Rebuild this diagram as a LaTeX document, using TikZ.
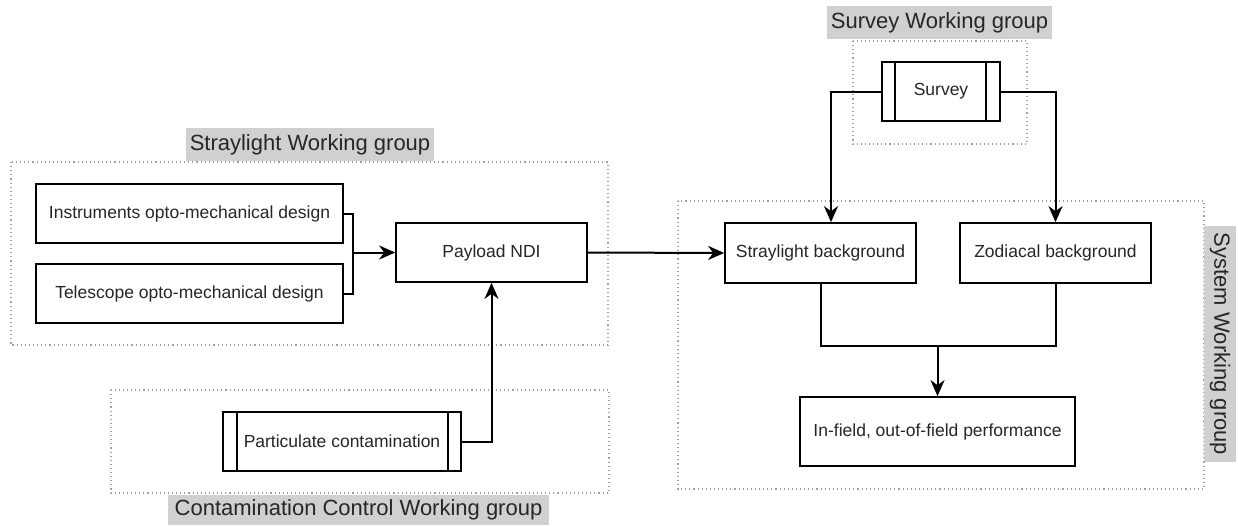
\documentclass[tikz,border=0pt]{standalone}
\usepackage{fontspec}
\setmainfont{Liberation Sans}
\usetikzlibrary{arrows.meta}
\definecolor{txt}{HTML}{262626}
\definecolor{lblfill}{HTML}{D0D0D0}
\definecolor{dotcol}{HTML}{A0A0A0}
\begin{document}
\begin{tikzpicture}[x=1pt,y=-1pt,
  nodefont/.style={font=\fontsize{17.5}{20}\selectfont, text=txt},
  procbox/.style={draw=black, line width=1.7pt, fill=white, inner sep=0pt, nodefont},
  grpbox/.style={draw=dotcol, line width=1.1pt, dash pattern=on 1.1pt off 3pt},
  grplabel/.style={fill=lblfill, inner sep=0pt, font=\fontsize{22}{26}\selectfont, text=txt},
  conn/.style={line width=2pt, draw=black},
  arr/.style={conn, -{Stealth[length=16pt, width=14pt, inset=5pt]}}]
\useasboundingbox (0,0) rectangle (1238,525);
\fill[white] (0,0) rectangle (1238,525);

% group frames
\draw[grpbox] (853,41) rectangle (1027,144);
\draw[grpbox] (11,162) rectangle (608,345);
\draw[grpbox] (111,390) rectangle (609,493);
\draw[grpbox] (678,201) rectangle (1204,489);

% group labels
\node[grplabel, minimum width=225pt, minimum height=33pt] (lsurvey) at (939.5,22.5) {Survey Working group};
\node[grplabel, minimum width=248pt, minimum height=33pt] (lstray) at (310,144.5) {Straylight Working group};
\node[grplabel, minimum width=381pt, minimum height=30pt] (lcont) at (358.5,510) {Contamination Control Working group};
\node[grplabel, minimum width=236pt, minimum height=32pt, rotate=-90] (lsys) at (1220,344) {System Working group};

% nodes
\node[procbox, minimum width=307pt, minimum height=59pt] (inst) at (189.5,213.5) {Instruments opto-mechanical design};
\node[procbox, minimum width=307pt, minimum height=59pt] (tele) at (189.5,293.5) {Telescope opto-mechanical design};
\node[procbox, minimum width=191pt, minimum height=59pt] (payload) at (491.5,252.5) {Payload NDI};
\node[procbox, minimum width=191pt, minimum height=60pt] (sbg) at (820.5,253) {Straylight background};
\node[procbox, minimum width=191pt, minimum height=60pt] (zbg) at (1055.5,253) {Zodiacal background};
\node[procbox, minimum width=275pt, minimum height=69pt] (infield) at (937.5,431.5) {In-field, out-of-field performance};
\node[procbox, minimum width=118pt, minimum height=59pt] (survey) at (941,91.5) {Survey};
\node[procbox, minimum width=238pt, minimum height=59pt] (partic) at (342,441.5) {Particulate contamination};

% process side bars
\draw[conn, line width=1.7pt] ([xshift=14pt]survey.north west) -- ([xshift=14pt]survey.south west);
\draw[conn, line width=1.7pt] ([xshift=-15pt]survey.north east) -- ([xshift=-15pt]survey.south east);
\draw[conn, line width=1.7pt] ([xshift=15pt]partic.north west) -- ([xshift=15pt]partic.south west);
\draw[conn, line width=1.7pt] ([xshift=-14pt]partic.north east) -- ([xshift=-14pt]partic.south east);

% connectors
\coordinate (brk) at (353,252.5);
\draw[conn] (inst.east) -| (brk) |- (tele.east);
\draw[arr] (brk) -- (payload.west);
\draw[arr] (payload.east) -- (sbg.west);
\draw[arr] (partic.east) -| (payload.south);
\coordinate (sbgin) at ([xshift=10.5pt]sbg.north);
\draw[arr] (survey.west) -| (sbgin);
\draw[arr] (survey.east) -| (zbg.north);
\coordinate (j) at (937.5,346);
\draw[conn] (sbg.south) |- (j) -| (zbg.south);
\draw[arr] (j) -- (infield.north);
\end{tikzpicture}
\end{document}
